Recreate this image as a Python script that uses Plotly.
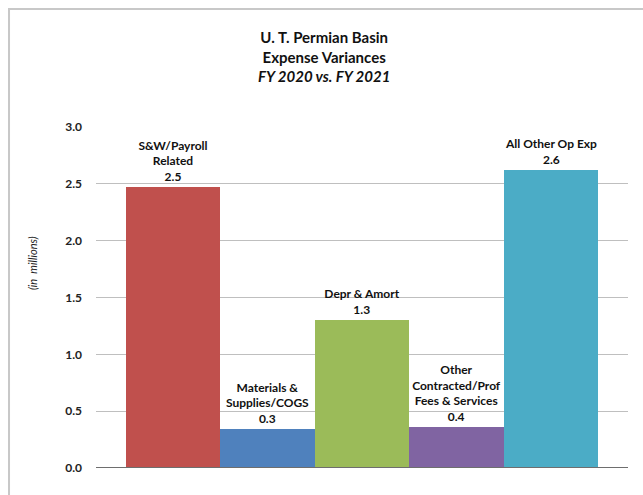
import plotly.graph_objects as go

# Expense variance categories (in millions)
categories = [
    "S&W/Payroll<br>Related",
    "Materials &<br>Supplies/COGS",
    "Depr & Amort",
    "Other<br>Contracted/Prof<br>Fees & Services",
    "All Other Op Exp",
]
variances = [2.47, 0.34, 1.30, 0.36, 2.62]
bar_colors = ["#C0504D", "#4F81BD", "#9BBB59", "#8064A2", "#4BACC6"]
y_ticks = [0.0, 0.5, 1.0, 1.5, 2.0, 2.5, 3.0]

positions = list(range(len(categories)))
labels = [f"{c}<br>{v:.1f}" for c, v in zip(categories, variances)]

FONT = "Lato, 'Open Sans', Arial, sans-serif"

fig = go.Figure(
    go.Bar(
        x=positions,
        y=variances,
        marker=dict(color=bar_colors, line=dict(width=0)),
        text=labels,
        textposition="outside",
        cliponaxis=False,
        textfont=dict(family=FONT, size=12, color="#111111", weight="bold"),
        hoverinfo="skip",
    )
)

fig.update_layout(
    width=643,
    height=495,
    margin=dict(l=96, r=15, t=127, b=27),
    paper_bgcolor="white",
    plot_bgcolor="white",
    bargap=0,
    showlegend=False,
    font=dict(family=FONT, color="#111111"),
    uniformtext=dict(mode=False),
)

fig.update_xaxes(
    range=[-0.818, 4.818],
    showticklabels=False,
    showgrid=False,
    zeroline=False,
    showline=False,
    ticks="",
)

fig.update_yaxes(
    range=[0, 3.0],
    tickvals=y_ticks,
    ticktext=[f"{t:.1f}" for t in y_ticks],
    tickfont=dict(family=FONT, size=12, color="#222222", weight="bold"),
    showgrid=True,
    gridcolor="#BFBFBF",
    gridwidth=1,
    zeroline=False,
    showline=False,
    ticks="",
    ticklabelstandoff=13,
)

# Darker baseline at zero
fig.add_shape(
    type="line", xref="paper", yref="y",
    x0=0, x1=1, y0=0, y1=0,
    line=dict(color="#6E6E6E", width=2),
)

# Outer chart frame
fig.add_shape(
    type="rect", xref="paper", yref="paper",
    x0=-0.1635, x1=1.2, y0=-0.3, y1=1.346,
    line=dict(color="#C8C8C8", width=2),
    fillcolor="rgba(0,0,0,0)",
    layer="below",
)

# Title block
fig.add_annotation(
    xref="paper", yref="paper", x=0.428, y=1.208,
    text="<b>U. T. Permian Basin</b><br><b>Expense Variances</b><br><b><i>FY 2020 vs. FY 2021</i></b>",
    showarrow=False, align="center", yanchor="middle",
    font=dict(family=FONT, size=15, color="#111111"),
)

# Unit label
fig.add_annotation(
    xref="paper", yref="paper", x=-0.135, y=0.60,
    text="<i>(in  millions)</i>",
    textangle=-90, showarrow=False,
    font=dict(family=FONT, size=11, color="#222222"),
)

fig.write_html("out.html")
